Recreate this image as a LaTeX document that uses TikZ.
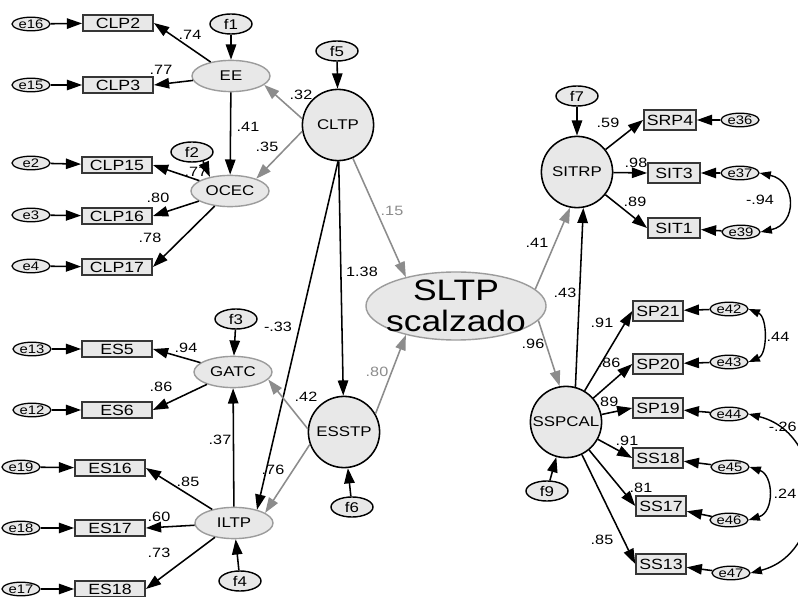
\documentclass[tikz,border=0pt]{standalone}
\usepackage{fontspec}
\setmainfont{Liberation Sans}[FakeStretch=1.2]
\usepackage{tikz}
\usetikzlibrary{shapes.geometric, arrows.meta}
\definecolor{nodefill}{HTML}{E8E8E8}
\definecolor{pathgray}{HTML}{8C8C8C}
\definecolor{rimgray}{HTML}{9C9C9C}
\definecolor{boxrim}{HTML}{363636}
\tikzstyle{obs} = [rectangle, draw=boxrim, line width=1.3pt, fill=nodefill, minimum width=1.75cm, minimum height=0.41cm, inner sep=0pt, font=\fontsize{10.5pt}{10.5pt}\selectfont]
\tikzstyle{obsr} = [obs, minimum width=1.24cm, minimum height=0.48cm]
\tikzstyle{err} = [ellipse, draw, line width=0.9pt, fill=nodefill, minimum width=0.95cm, minimum height=0.34cm, inner xsep=-1pt, inner ysep=-1pt, font=\fontsize{8.8pt}{8.8pt}\selectfont]
\tikzstyle{dist} = [ellipse, draw, line width=1pt, fill=nodefill, minimum width=1.05cm, minimum height=0.5cm, inner sep=0pt, font=\fontsize{10pt}{10pt}\selectfont]
\tikzstyle{latent} = [ellipse, draw=rimgray, line width=1pt, fill=nodefill, minimum width=1.95cm, minimum height=0.78cm, inner sep=0pt, font=\fontsize{10pt}{10pt}\selectfont]
\tikzstyle{construct} = [ellipse, draw, line width=1.1pt, fill=nodefill, minimum width=1.78cm, minimum height=1.78cm, inner xsep=-6pt, inner ysep=0pt, font=\fontsize{10pt}{10pt}\selectfont]
\tikzstyle{arrow} = [line width=1.1pt, -{Triangle[length=3.8mm, width=2.6mm]}]
\tikzstyle{grayarrow} = [arrow, color=pathgray]
\tikzstyle{covar} = [line width=1pt, {Triangle[length=2.8mm, width=2mm]}-{Triangle[length=2.8mm, width=2mm]}]
\tikzstyle{lbl} = [inner sep=0pt, font=\fontsize{9.6pt}{9.6pt}\selectfont]

\begin{document}
\begin{tikzpicture}[x=0.025cm, y=-0.025cm]
    \useasboundingbox (0,0) rectangle (798,597);
    \fill[white] (0,0) rectangle (798,597);

    % left column: EE, OCEC, GATC, ILTP and their items
    \node[err] (e16) at (31,24) {e16};
    \node[obs] (CLP2) at (118,23) {CLP2};
    \node[err] (e15) at (31,85) {e15};
    \node[obs] (CLP3) at (118,85) {CLP3};
    \node[dist] (f1) at (231,24) {f1};
    \node[latent] (EE) at (231,76) {EE};

    \node[dist] (f2) at (192,152) {f2};
    \node[latent] (OCEC) at (230,191) {OCEC};
    \node[err] (e2) at (31,163) {e2};
    \node[obs] (CLP15) at (117,165) {CLP15};
    \node[err] (e3) at (31,215) {e3};
    \node[obs] (CLP16) at (117,216) {CLP16};
    \node[err] (e4) at (31,266) {e4};
    \node[obs] (CLP17) at (117,267) {CLP17};

    \node[dist] (f3) at (236,319) {f3};
    \node[latent] (GATC) at (233,372) {GATC};
    \node[err] (e13) at (32,349) {e13};
    \node[obs] (ES5) at (117,349) {ES5};
    \node[err] (e12) at (32,410) {e12};
    \node[obs] (ES6) at (117,410) {ES6};

    \node[latent] (ILTP) at (234,523) {ILTP};
    \node[dist] (f4) at (240,581) {f4};
    \node[err] (e19) at (21,467) {e19};
    \node[obs] (ES16) at (110,468) {ES16};
    \node[err] (e18) at (21,528) {e18};
    \node[obs] (ES17) at (110,528) {ES17};
    \node[err] (e17) at (21,589) {e17};
    \node[obs] (ES18) at (110,589) {ES18};

    % middle
    \node[dist] (f5) at (337,51) {f5};
    \node[construct] (CLTP) at (338,125) {CLTP};
    \node[construct] (ESSTP) at (344,432) {ESSTP};
    \node[dist] (f6) at (352,507) {f6};
    \node[latent, minimum width=4.5cm, minimum height=1.7cm, inner xsep=-9pt, inner ysep=-12pt, align=center, font=\fontsize{21pt}{22.5pt}\selectfont] (SLTP) at (456,306) {SLTP\\scalzado};

    % right column
    \node[dist] (f7) at (577,96) {f7};
    \node[construct] (SITRP) at (577,172) {SITRP};
    \node[obsr, minimum width=1.3cm] (SRP4) at (670,120) {SRP4};
    \node[obsr, minimum width=1.3cm] (SIT3) at (674,173) {SIT3};
    \node[obsr, minimum width=1.3cm] (SIT1) at (674,228) {SIT1};
    \node[err] (e36) at (740,120) {e36};
    \node[err] (e37) at (740,173) {e37};
    \node[err] (e39) at (741,232) {e39};

    \node[construct] (SSPCAL) at (566,422) {SSPCAL};
    \node[dist] (f9) at (547,491) {f9};
    \node[obsr] (SP21) at (658,311) {SP21};
    \node[obsr] (SP20) at (658,364) {SP20};
    \node[obsr] (SP19) at (658,408) {SP19};
    \node[obsr] (SS18) at (658,458) {SS18};
    \node[obsr] (SS17) at (661,506) {SS17};
    \node[obsr] (SS13) at (661,564) {SS13};
    \node[err] (e42) at (729,309) {e42};
    \node[err] (e43) at (729,362) {e43};
    \node[err] (e44) at (729,414) {e44};
    \node[err] (e45) at (730,467) {e45};
    \node[err] (e46) at (729,520) {e46};
    \node[err] (e47) at (731,573) {e47};

    % error terms into items
    \foreach \e/\b in {e16/CLP2, e15/CLP3, e2/CLP15, e3/CLP16, e4/CLP17, e13/ES5, e12/ES6, e19/ES16, e18/ES17, e17/ES18, e36/SRP4, e37/SIT3, e39/SIT1, e42/SP21, e43/SP20, e44/SP19, e45/SS18, e46/SS17, e47/SS13}
        \draw[arrow] (\e) -- (\b);

    % loadings
    \foreach \b in {CLP2, CLP3}
        \draw[arrow] (EE) -- (\b.east);
    \foreach \b in {CLP15, CLP16, CLP17}
        \draw[arrow] (OCEC) -- (\b.east);
    \foreach \b in {ES5, ES6}
        \draw[arrow] (GATC) -- (\b.east);
    \foreach \b in {ES16, ES17, ES18}
        \draw[arrow] (ILTP) -- (\b.east);
    \foreach \b in {SRP4, SIT3, SIT1}
        \draw[arrow] (SITRP) -- (\b.west);
    \foreach \b in {SP21, SP20, SP19, SS18, SS17, SS13}
        \draw[arrow] (SSPCAL) -- (\b.west);

    % structural paths
    \draw[arrow] (f1) -- (EE);
    \draw[arrow] (EE) -- (OCEC);
    \draw[arrow] (f2.-40) -- (OCEC.145);
    \draw[arrow] (f3) -- (GATC);
    \draw[arrow] (ILTP) -- (GATC);
    \draw[arrow] (f4) -- (ILTP);
    \draw[arrow] (f5) -- (CLTP);
    \draw[grayarrow] (CLTP.170) -- (EE.-15);
    \draw[grayarrow] (CLTP.190) -- (OCEC.25);
    \draw[grayarrow] (CLTP) -- (SLTP.150);
    \draw[arrow] (CLTP) -- (ESSTP);
    \draw[arrow] (CLTP.south) -- (ILTP.30);
    \draw[arrow] (f6) -- (ESSTP);
    \draw[grayarrow] (ESSTP.175) -- (GATC.-12);
    \draw[grayarrow] (ESSTP.200) -- (ILTP.18);
    \draw[grayarrow] (ESSTP.30) -- (SLTP.210);
    \draw[grayarrow] (SLTP.12) -- (SITRP.259);
    \draw[grayarrow] (SLTP.-10) -- (SSPCAL.100);
    \draw[arrow] (SSPCAL.75) -- (SITRP.-80);
    \draw[arrow] (f7) -- (SITRP);
    \draw[arrow] (f9) -- (SSPCAL);

    % correlated errors
    \draw[covar] (e37.east) .. controls +(37,8) and +(37,-8) .. (e39.east);
    \draw[covar] (e42.east) .. controls +(19,8) and +(19,-8) .. (e43.east);
    \draw[covar] (e45.east) .. controls +(24,8) and +(26,-8) .. (e46.east);
    \draw[covar] (e44.east) .. controls +(80,20) and +(78,-20) .. (e47.east);

    % estimates
    \node[lbl] (wCLP2) at (190,35) {.74};
    \node[lbl] (wCLP3) at (161,70) {.77};
    \node[lbl] (wEE) at (248,127) {.41};
    \node[lbl] (wOCEC) at (267,147) {.35};
    \node[lbl] (wCLTPee) at (301,95) {.32};
    \node[lbl] (wCLP15) at (196,172) {.77};
    \node[lbl] (wCLP16) at (158,198) {.80};
    \node[lbl] (wCLP17) at (150,238) {.78};
    \node[lbl, text=pathgray] (wSLTPa) at (392,211) {.15};
    \node[lbl] (wESSTP) at (362,272) {1.38};
    \node[lbl] (wILTPa) at (278,327) {-.33};
    \node[lbl, text=pathgray] (wSLTPb) at (377,372) {.80};
    \node[lbl] (wGATCb) at (306,397) {.42};
    \node[lbl] (wILTPb) at (273,470) {.76};
    \node[lbl] (wGATCa) at (220,440) {.37};
    \node[lbl] (wES5) at (186,348) {.94};
    \node[lbl] (wES6) at (161,387) {.86};
    \node[lbl] (wES16) at (188,482) {.85};
    \node[lbl] (wES17) at (159,517) {.60};
    \node[lbl] (wES18) at (159,553) {.73};
    \node[lbl] (wSITRPa) at (537,243) {.41};
    \node[lbl] (wSITRPb) at (565,293) {.43};
    \node[lbl] (wSSPCAL) at (533,344) {.96};
    \node[lbl] (wSRP4) at (608,123) {.59};
    \node[lbl] (wSIT3) at (636,163) {.98};
    \node[lbl] (wSIT1) at (635,202) {.89};
    \node[lbl] (c3739) at (760,200) {-.94};
    \node[lbl] (wSP21) at (602,323) {.91};
    \node[lbl] (wSP20) at (609,363) {.86};
    \node[lbl] (wSP19) at (607,402) {.89};
    \node[lbl] (c4243) at (778,337) {.44};
    \node[lbl] (wSS18) at (627,441) {.91};
    \node[lbl] (wSS17) at (641,488) {.81};
    \node[lbl] (wSS13) at (602,540) {.85};
    \node[lbl] (c4546) at (785,494) {.24};
    \node[lbl, anchor=east] (c4447) at (797,427) {-.26};
\end{tikzpicture}
\end{document}
